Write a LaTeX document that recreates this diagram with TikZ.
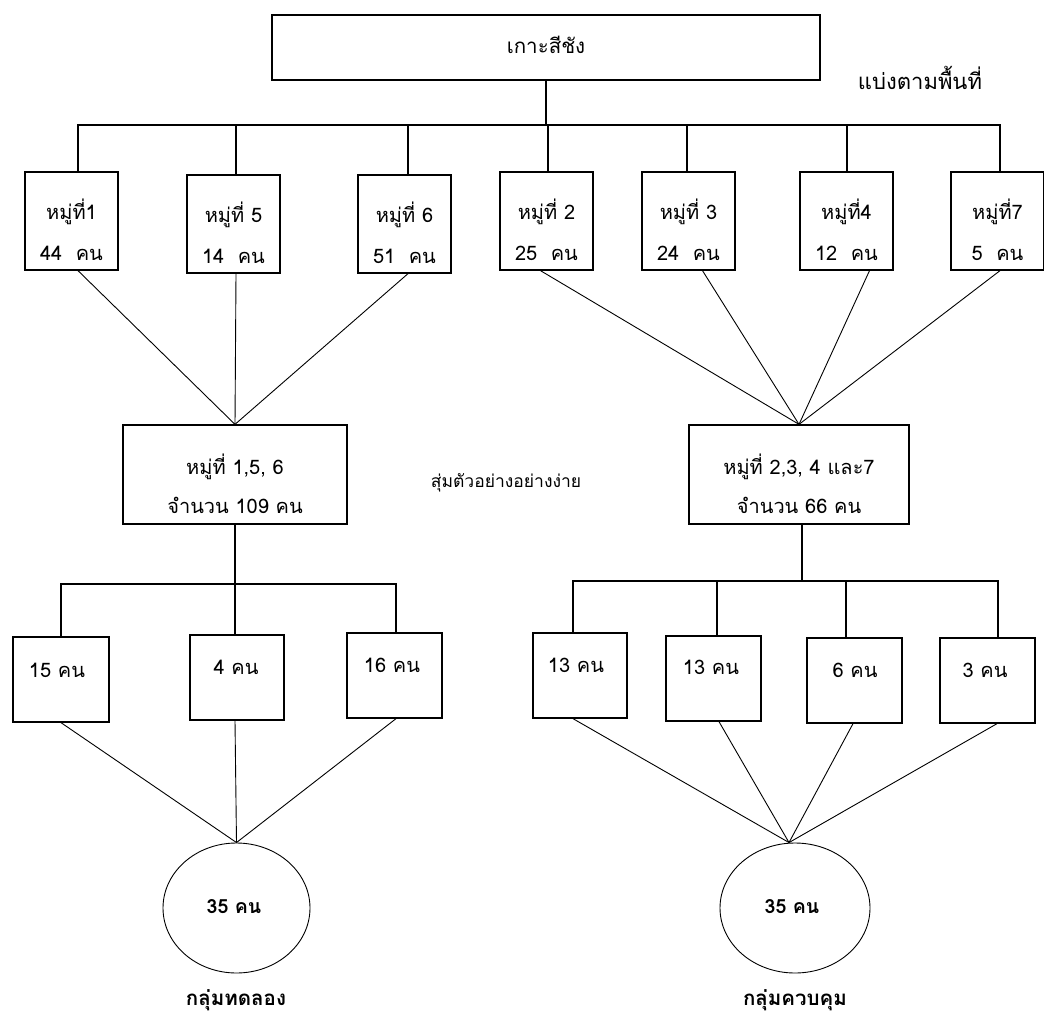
\documentclass[tikz,border=0pt]{standalone}
\usepackage{fontspec}
\setmainfont[Script=Thai]{Loma}
\usetikzlibrary{shapes.geometric}
\begin{document}
\begin{tikzpicture}[x=1pt,y=-1pt,
  box/.style={draw, line width=1.3pt, minimum width=#1, inner sep=0pt},
  box/.default=93pt,
  txt/.style={font=\fontsize{20}{24}\selectfont, align=center, inner sep=0pt},
  big/.style={font=\fontsize{20.5}{24}\selectfont, align=center, inner sep=0pt},
  lbl/.style={font=\fontsize{19.5}{23}\selectfont\bfseries, inner sep=0pt},
  tree/.style={line width=1.2pt},
  link/.style={line width=0.9pt},
  oval/.style={draw, ellipse, line width=0.9pt, inner sep=0pt}]
\useasboundingbox (0,0) rectangle (1044,1014);

% top
\node[box=548pt, minimum height=65pt] (top) at (546,47.5) {};
\node[big] (topt) at (546,45) {เกาะสีชัง};
\node[big, font=\fontsize{22}{26}\selectfont] (area) at (920,78) {แบ่งตามพื้นที่};
\coordinate (bus1) at (546,125);

% row 1
\foreach \n/\x/\y in {v1/71.5/221, v5/233.5/224, v6/404.5/224, v2/546.5/221, v3/688.5/221, v4/846.5/221, v7/997.5/221}
  \node[box, minimum height=98pt] (\n) at (\x,\y) {};
\node[txt] (v1t) at (71.5,230) {หมู่ที่1\\[17pt]44~~คน};
\node[txt] (v5t) at (233.5,233) {หมู่ที่ 5\\[17pt]14~~คน};
\node[txt] (v6t) at (404.5,233) {หมู่ที่ 6\\[17pt]51~~คน};
\node[txt] (v2t) at (546.5,230) {หมู่ที่ 2\\[17pt]25~~คน};
\node[txt] (v3t) at (688.5,230) {หมู่ที่ 3\\[17pt]24~~คน};
\node[txt] (v4t) at (846.5,230) {หมู่ที่4\\[17pt]12~~คน};
\node[txt] (v7t) at (997.5,230) {หมู่ที่7\\[17pt]5~~คน};

\draw[tree] (top.south) -- (bus1);
\draw[tree] ([xshift=6.5pt]v1.north) |- (bus1) -| ([xshift=2.5pt]v7.north);
\draw[tree] ([xshift=2.5pt]v5.north) -- ([xshift=2.5pt]v5.north |- bus1);
\draw[tree] ([xshift=3.5pt]v6.north) -- ([xshift=3.5pt]v6.north |- bus1);
\draw[tree] ([xshift=1.5pt]v2.north) -- ([xshift=1.5pt]v2.north |- bus1);
\draw[tree] ([xshift=-1.5pt]v3.north) -- ([xshift=-1.5pt]v3.north |- bus1);
\draw[tree] ([xshift=0.5pt]v4.north) -- ([xshift=0.5pt]v4.north |- bus1);

% middle
\node[box=224pt, minimum height=99pt] (m1) at (235,474.5) {};
\node[txt] (m1t) at (235,484) {หมู่ที่ 1,5, 6\\[15pt]จำนวน 109 คน};
\node[box=220pt, minimum height=99pt] (m2) at (799,474.5) {};
\node[txt] (m2t) at (799,484) {หมู่ที่ 2,3, 4 และ7\\[15pt]จำนวน 66 คน};
\node[txt, font=\fontsize{17.5}{21}\selectfont] (rand) at (506,483) {สุ่มตัวอย่างอย่างง่าย};

\draw[link] ([xshift=6.5pt]v1.south) -- (m1.north);
\draw[link] ([xshift=2.5pt]v5.south) -- (m1.north);
\draw[link] ([xshift=3.5pt]v6.south) -- (m1.north);
\draw[link] ([xshift=-6pt]v2.south) -- (m2.north);
\draw[link] ([xshift=14pt]v3.south) -- (m2.north);
\draw[link] ([xshift=23pt]v4.south) -- (m2.north);
\draw[link] ([xshift=2.5pt]v7.south) -- (m2.north);

% bottom boxes
\foreach \n/\x/\y/\w in {b1/61/679.5/96, b2/237/677.5/94, b3/394.5/675.5/95,
  c1/580/675.5/94, c2/713.5/678.5/95, c3/854.5/680.5/95, c4/987.5/680.5/95}
  \node[box=\w pt, minimum height=85pt] (\n) at (\x,\y) {};
\node[txt] (b1t) at (57,670) {15 คน};
\node[txt] (b2t) at (236,667) {4 คน};
\node[txt] (b3t) at (392,665) {16 คน};
\node[txt] (c1t) at (576,665) {13 คน};
\node[txt] (c2t) at (711,667) {13 คน};
\node[txt] (c3t) at (855,670) {6 คน};
\node[txt] (c4t) at (985,670) {3 คน};

\coordinate (bus2) at (235,584);
\coordinate (bus3) at (802,581);
\draw[tree] (m1.south) -- (bus2);
\draw[tree] (b1.north) |- (bus2) -| ([xshift=1.5pt]b3.north);
\draw[tree] ([xshift=-2pt]b2.north) -- ([xshift=-2pt]b2.north |- bus2);
\draw[tree] ([xshift=3pt]m2.south) -- (bus3);
\draw[tree] ([xshift=-7pt]c1.north) |- (bus3) -| ([xshift=10.5pt]c4.north);
\draw[tree] ([xshift=3.5pt]c2.north) -- ([xshift=3.5pt]c2.north |- bus3);
\draw[tree] ([xshift=-8.5pt]c3.north) -- ([xshift=-8.5pt]c3.north |- bus3);

% ellipses
\node[oval, minimum width=147pt, minimum height=130pt] (e1) at (236.5,908) {};
\node[lbl] (e1t) at (234,907) {35 คน};
\node[oval, minimum width=150pt, minimum height=130pt] (e2) at (795,908) {};
\node[lbl] (e2t) at (792,907) {35 คน};
\node[lbl, font=\fontsize{20.5}{24}\selectfont\bfseries] (g1) at (236,1000) {กลุ่มทดลอง};
\node[lbl, font=\fontsize{20.5}{24}\selectfont\bfseries] (g2) at (795,1000) {กลุ่มควบคุม};

\draw[link] (b1.south) -- (e1.north);
\draw[link] ([xshift=-2pt]b2.south) -- (e1.north);
\draw[link] ([xshift=1.5pt]b3.south) -- (e1.north);
\draw[link] ([xshift=-7pt]c1.south) -- ([xshift=-6pt]e2.north);
\draw[link] ([xshift=5.5pt]c2.south) -- ([xshift=-6pt]e2.north);
\draw[link] ([xshift=-1.5pt]c3.south) -- ([xshift=-6pt]e2.north);
\draw[link] ([xshift=9.5pt]c4.south) -- ([xshift=-6pt]e2.north);
\end{tikzpicture}
\end{document}
